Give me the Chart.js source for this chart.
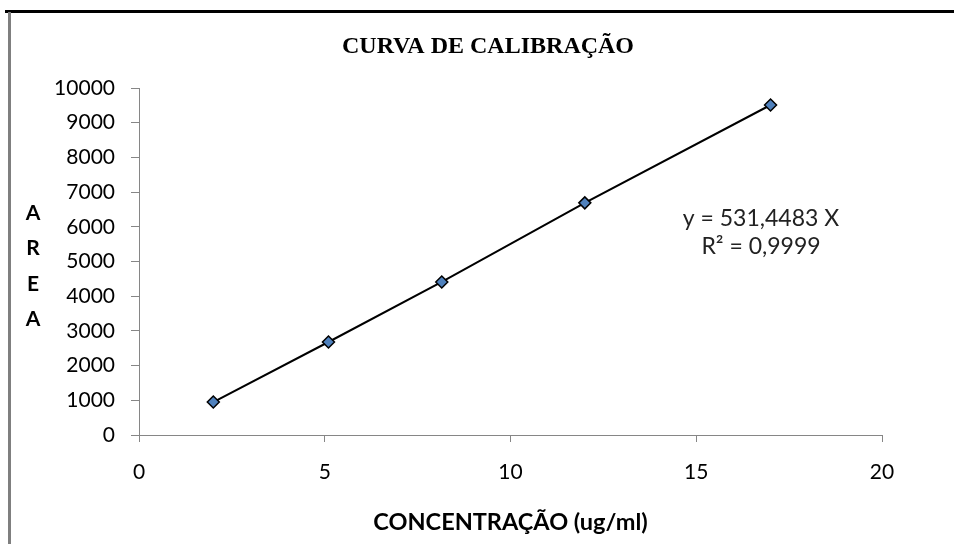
<!DOCTYPE html>
<html>
<head>
<meta charset="utf-8">
<script src="https://cdn.jsdelivr.net/npm/chart.js@4.4.1/dist/chart.umd.min.js"></script>
<style>
  html, body { margin: 0; padding: 0; background: #ffffff; }
  #wrap { width: 954px; height: 544px; position: relative; }
</style>
</head>
<body>
<div id="wrap"><canvas id="myChart" width="954" height="544"></canvas></div>
<script>
// calibration points
const concentracao = [2, 5.1, 8.15, 12, 17];
const area = [950, 2680, 4410, 6690, 9510];
const xTicks = [0, 5, 10, 15, 20];
const yTicks = [0, 1000, 2000, 3000, 4000, 5000, 6000, 7000, 8000, 9000, 10000];
const chartTitle = 'CURVA DE CALIBRAÇÃO';
const equationLines = ['y = 531,4483 X', 'R² = 0,9999'];
const yTitleLetters = ['A', 'R', 'E', 'A'];

const axisGray = '#868686';
const sans = 'Lato, "Open Sans", sans-serif';

document.addEventListener('DOMContentLoaded', function() {
    const ctx = document.getElementById('myChart').getContext('2d');

    const extras = {
        id: 'extras',
        beforeDraw(chart) {
            const c = chart.ctx;
            c.save();
            c.fillStyle = '#ffffff';
            c.fillRect(0, 0, chart.width, chart.height);
            c.restore();
        },
        afterDraw(chart) {
            const c = chart.ctx;
            c.save();
            // frame: thick top line, grey left line
            c.fillStyle = '#000000';
            c.fillRect(5, 10, chart.width - 5, 3);
            c.fillStyle = '#7f7f7f';
            c.fillRect(8, 12, 3, chart.height - 12);

            c.textAlign = 'center';
            c.textBaseline = 'middle';

            // title
            c.fillStyle = '#000000';
            c.font = 'bold 24px "Liberation Serif", "Times New Roman", serif';
            c.fillText(chartTitle, 488, 47);

            // stacked y title
            c.font = 'bold 21px ' + sans;
            yTitleLetters.forEach((ch, i) => c.fillText(ch, 33, 213 + i * 35.5));

            // trendline label
            c.font = '23px ' + sans;
            c.fillStyle = '#222222';
            equationLines.forEach((t, i) => c.fillText(t, 761, 219 + i * 28));
            c.restore();
        }
    };

    new Chart(ctx, {
        type: 'scatter',
        data: {
            datasets: [{
                label: 'Área',
                data: concentracao.map((x, i) => ({ x: x, y: area[i] })),
                showLine: true,
                borderColor: '#000000',
                borderWidth: 2,
                pointStyle: 'rectRot',
                pointRadius: 6,
                pointBackgroundColor: '#4f81bd',
                pointBorderColor: '#000000',
                pointBorderWidth: 1.5
            }]
        },
        options: {
            responsive: false,
            animation: false,
            layout: { padding: { left: 0, right: 72, top: 88, bottom: 0 } },
            plugins: {
                legend: { display: false },
                tooltip: { enabled: false },
                title: { display: false }
            },
            scales: {
                x: {
                    type: 'linear',
                    min: 0,
                    max: 20,
                    afterBuildTicks: s => { s.ticks = xTicks.map(v => ({ value: v })); },
                    afterFit: s => { s.height = 109; },
                    grid: { drawOnChartArea: false, drawTicks: true, tickLength: 7, color: axisGray },
                    border: { display: true, color: axisGray, width: 1 },
                    ticks: { color: '#000000', font: { family: sans, size: 21 }, padding: 18, maxRotation: 0 },
                    title: {
                        display: true,
                        text: 'CONCENTRAÇÃO (ug/ml)',
                        color: '#000000',
                        font: { family: sans, size: 23.5, weight: 'bold' },
                        padding: { top: 0, bottom: 7 }
                    }
                },
                y: {
                    type: 'linear',
                    min: 0,
                    max: 10000,
                    afterBuildTicks: s => { s.ticks = yTicks.map(v => ({ value: v })); },
                    afterFit: s => { s.width = 139; },
                    grid: { drawOnChartArea: false, drawTicks: true, tickLength: 8, color: axisGray },
                    border: { display: true, color: axisGray, width: 1 },
                    ticks: { color: '#000000', font: { family: sans, size: 21 }, padding: 16, callback: v => String(v) }
                }
            }
        },
        plugins: [extras]
    });
});
</script>
</body>
</html>
